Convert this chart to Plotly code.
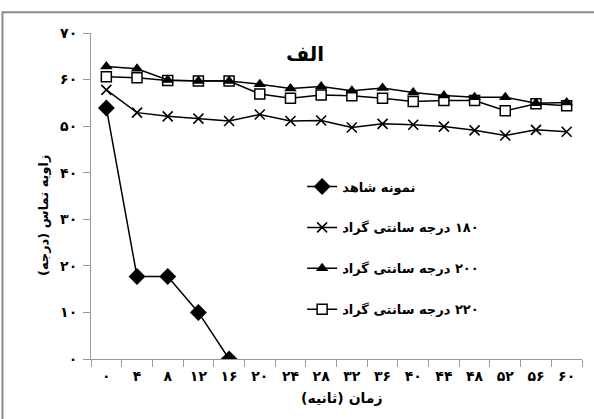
import plotly.graph_objects as go

time_s = [0, 4, 8, 12, 16, 20, 24, 28, 32, 36, 40, 44, 48, 52, 56, 60]
control = [53.9, 17.7, 17.7, 10.0, 0.0]
t180 = [57.8, 52.9, 52.1, 51.6, 51.1, 52.5, 51.1, 51.2, 49.7, 50.5, 50.3, 49.9, 49.1, 48.0, 49.2, 48.8]
t200 = [62.8, 62.3, 59.9, 59.7, 59.7, 59.0, 58.1, 58.5, 57.6, 58.2, 57.2, 56.6, 56.2, 56.2, 54.9, 55.1]
t220 = [60.6, 60.4, 59.8, 59.7, 59.7, 56.9, 56.0, 56.7, 56.5, 56.0, 55.3, 55.5, 55.5, 53.3, 54.8, 54.4]
y_ticks = [0, 10, 20, 30, 40, 50, 60, 70]

names = ["نمونه شاهد", "۱۸۰ درجه سانتی گراد", "۲۰۰ درجه سانتی گراد", "۲۲۰ درجه سانتی گراد"]
title_text = "الف"
x_title = "زمان (ثانیه)"
y_title = "زاویه تماس (درجه)"

FA = str.maketrans("0123456789", "۰۱۲۳۴۵۶۷۸۹")
def fa(v):
    return str(v).translate(FA)

RLM = "\u200f"
def rtl(s):
    return RLM + s + RLM

cats = [fa(t) for t in time_s]
FONT = "DejaVu Sans"

fig = go.Figure()
line = dict(color="black", width=1.5)
fig.add_trace(go.Scatter(x=cats[:len(control)], y=control, name=rtl(names[0]), mode="lines+markers",
                         line=line, marker=dict(symbol="diamond", size=13, color="black"),
                         legendgroup="a", legendrank=1))
fig.add_trace(go.Scatter(x=cats, y=t180, name=rtl(names[1]), mode="lines+markers",
                         line=line, marker=dict(symbol="x-thin-open", size=10, color="black",
                                                line=dict(color="black", width=1.6)),
                         legendgroup="b", legendrank=2))
fig.add_trace(go.Scatter(x=cats, y=t220, name=rtl(names[3]), mode="lines+markers",
                         line=line, marker=dict(symbol="square", size=10, color="white",
                                                line=dict(color="black", width=1.5)),
                         legendgroup="d", legendrank=4))
fig.add_trace(go.Scatter(x=cats, y=t200, name=rtl(names[2]), mode="lines+markers",
                         line=line, marker=dict(symbol="triangle-up", size=11, color="black"),
                         legendgroup="c", legendrank=3))

fig.update_layout(
    width=594, height=419,
    margin=dict(l=91, r=12, t=33, b=60),
    paper_bgcolor="white", plot_bgcolor="white",
    font=dict(family=FONT, size=13, color="black"),
    showlegend=True,
    legend=dict(x=0.43, y=0.575, xanchor="left", yanchor="top",
                bgcolor="rgba(0,0,0,0)", font=dict(size=13, family=FONT, weight="bold"),
                traceorder="grouped", tracegroupgap=21),
    annotations=[
        dict(text="<b>%s</b>" % rtl(title_text), x=(305 - 91) / 491, y=(359.3 - 40) / 326,
             xref="paper", yref="paper", showarrow=False, font=dict(size=20, family=FONT)),
        dict(text="<b>%s</b>" % rtl(y_title), x=(34 - 91) / 491, y=0.44, xref="paper", yref="paper",
             showarrow=False, textangle=-90, font=dict(size=13, family=FONT)),
        dict(text="<b>%s</b>" % rtl(x_title), x=(342 - 91) / 491, y=(359.3 - 408) / 326,
             xref="paper", yref="paper", showarrow=False, font=dict(size=14, family=FONT)),
    ],
    shapes=[dict(type="rect", xref="paper", yref="paper",
                 x0=(2.5 - 91) / 491, x1=(610 - 91) / 491,
                 y0=(359.3 - 440) / 326, y1=(359.3 - 12.5) / 326,
                 line=dict(color="#8a8a8a", width=2), fillcolor="rgba(0,0,0,0)", layer="below")],
)
fig.update_xaxes(type="category", categoryorder="array", categoryarray=cats,
                 range=[-0.5, 15.5], showline=True, linecolor="#999999", linewidth=1,
                 ticks="outside", tickson="boundaries", ticklen=7, tickcolor="#999999",
                 ticklabelstandoff=4,
                 showgrid=False, zeroline=False, tickfont=dict(size=14, family=FONT, weight="bold"))
fig.update_yaxes(range=[0, 70], tickvals=y_ticks, ticktext=[fa(v) for v in y_ticks],
                 showline=True, linecolor="#999999", linewidth=1, ticks="outside",
                 ticklen=7, tickcolor="#999999", showgrid=False, zeroline=False,
                 ticklabelstandoff=3,
                 tickfont=dict(size=14, family=FONT, weight="bold"))

fig.write_html("out.html", config={"displayModeBar": False},
               post_script="document.body.style.margin='0';document.body.style.overflow='hidden';")
